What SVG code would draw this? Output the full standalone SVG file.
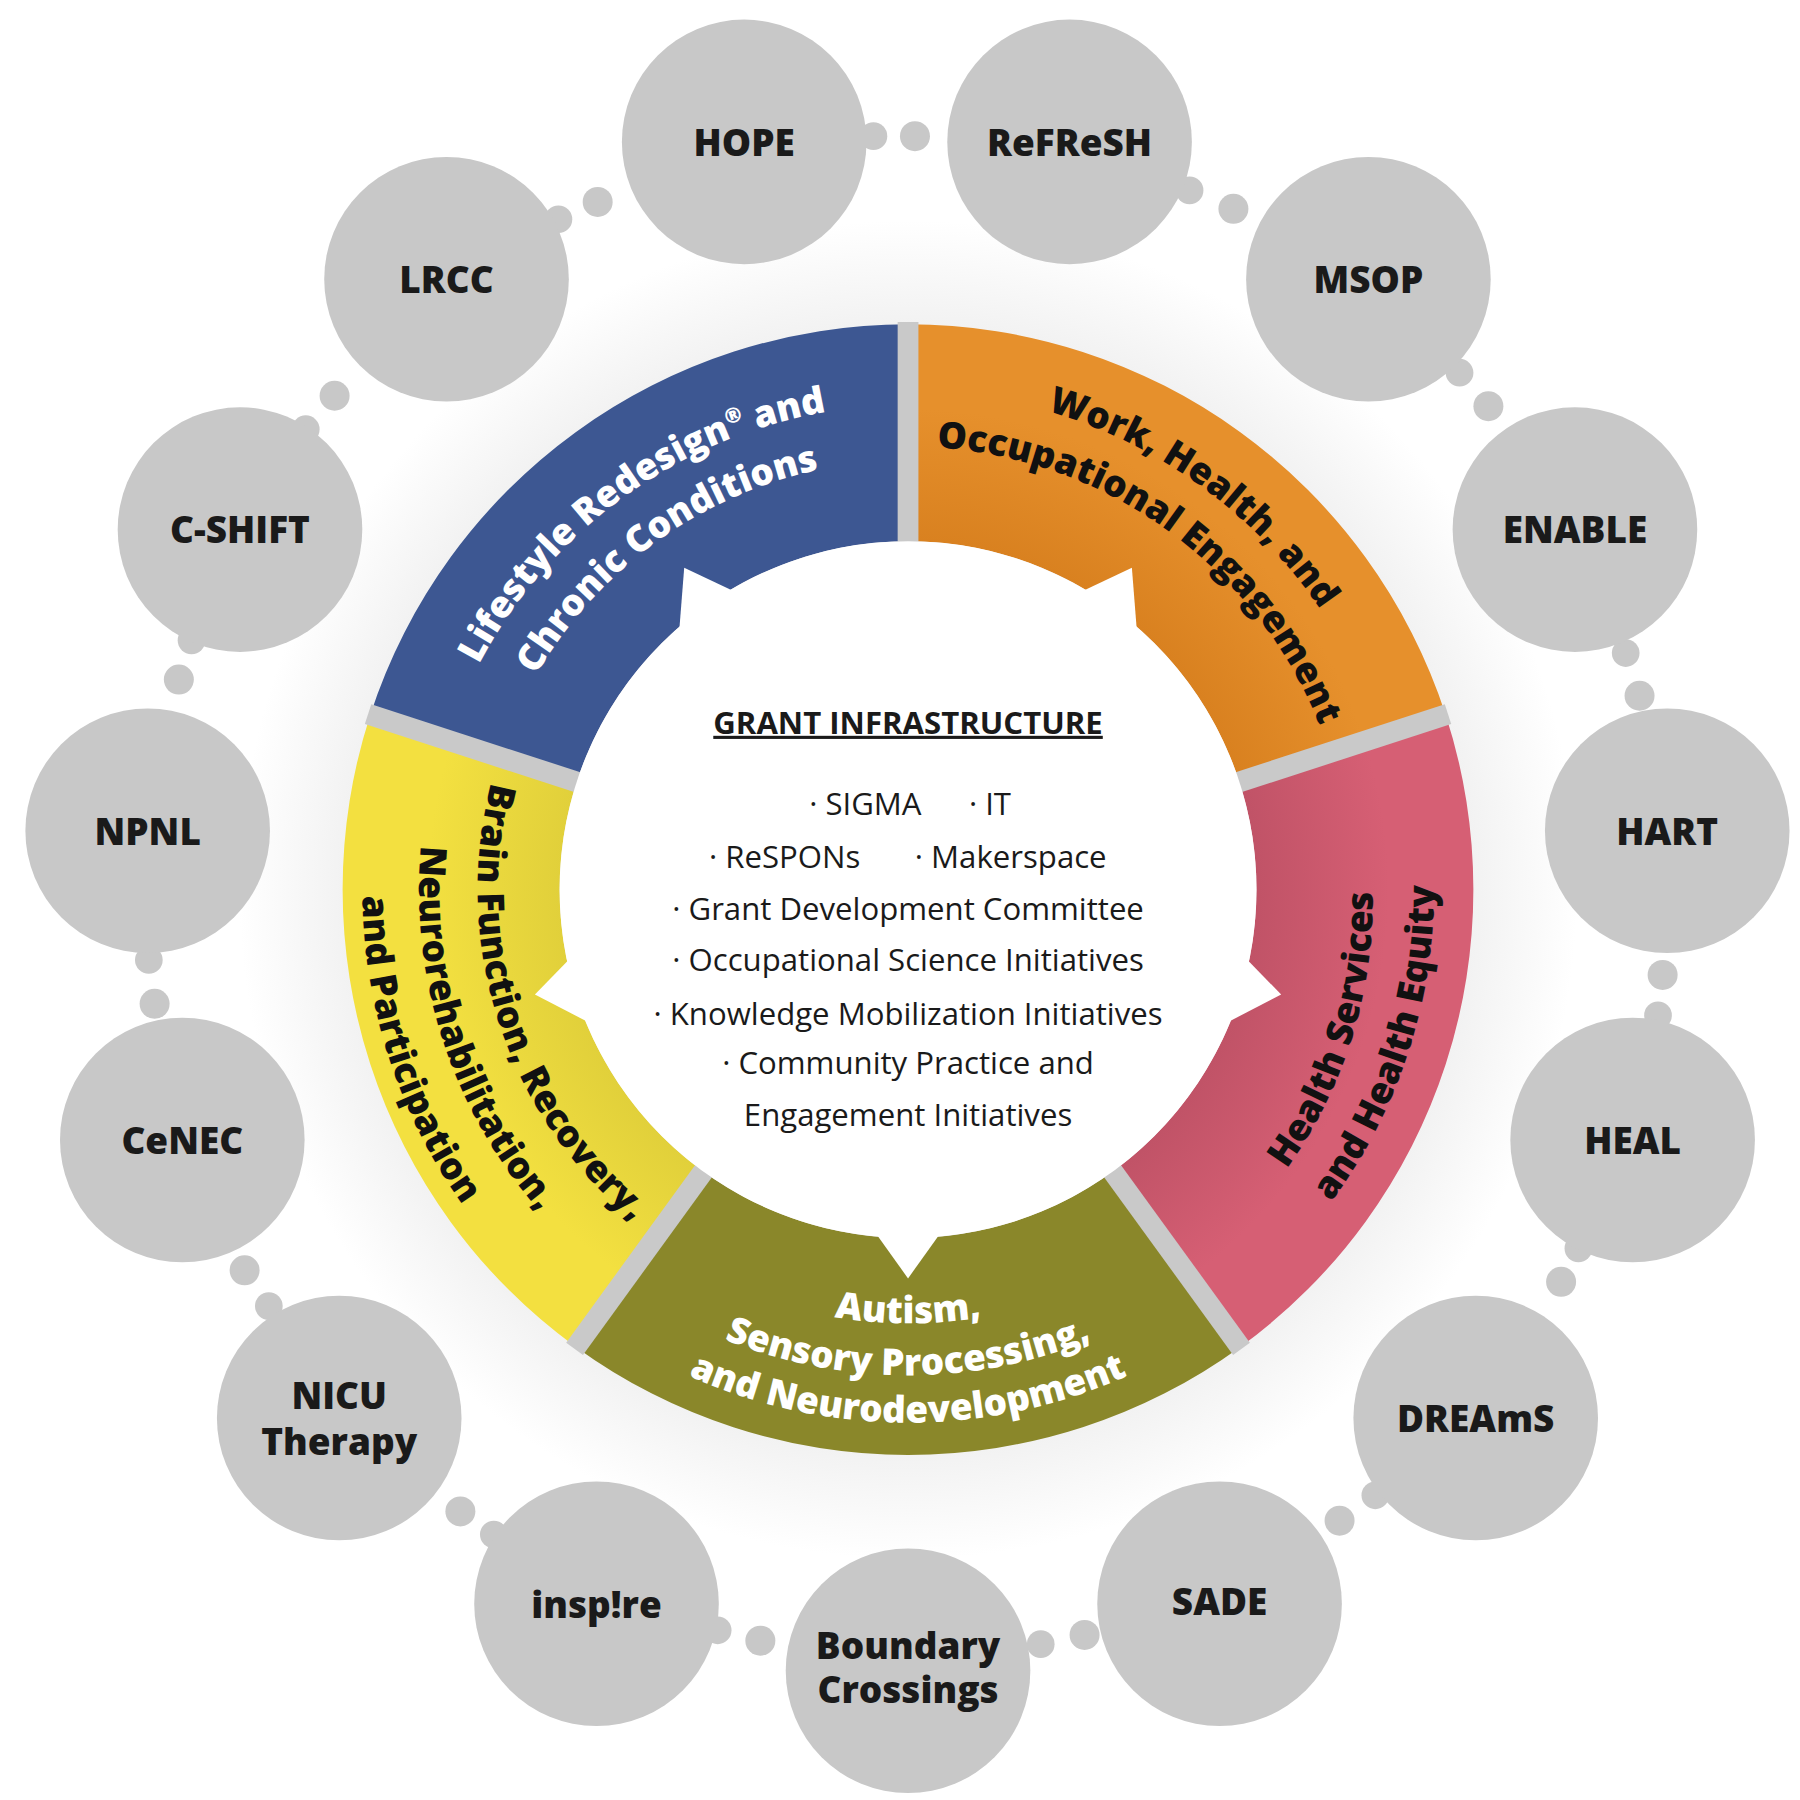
<svg xmlns="http://www.w3.org/2000/svg" width="1800" height="1800" viewBox="0 0 1800 1800">
<defs>
<style>
.c{fill:#c8c8c8}
.lb{font-family:"Open Sans","DejaVu Sans",sans-serif;font-weight:800;font-size:32px;fill:#1a1a1a;text-anchor:middle}
.arc{font-family:"Open Sans","DejaVu Sans",sans-serif;font-weight:800;font-size:32px;text-anchor:middle}
.ct{font-family:"Open Sans","DejaVu Sans",sans-serif;font-size:27px;fill:#1a1a1a;text-anchor:middle}
.gap{stroke:#c9c9c9;stroke-width:18}
</style>
<radialGradient id="glow"><stop offset="0.7" stop-color="#e6e6e6"/><stop offset="1" stop-color="#fff"/></radialGradient>
<radialGradient id="gO" cx="787" cy="771" r="490" gradientUnits="userSpaceOnUse"><stop offset="0.6" stop-color="#d8801f"/><stop offset="0.85" stop-color="#e6902c"/></radialGradient>
<radialGradient id="gP" cx="787" cy="771" r="490" gradientUnits="userSpaceOnUse"><stop offset="0.6" stop-color="#bf5266"/><stop offset="0.85" stop-color="#d65f74"/></radialGradient>
<radialGradient id="gY" cx="787" cy="771" r="490" gradientUnits="userSpaceOnUse"><stop offset="0.6" stop-color="#e0cf3a"/><stop offset="0.85" stop-color="#f3e040"/></radialGradient>
<path id="b1" d="M367,771 A420,420 0 0 1 916.8,371.6"/>
<path id="b2" d="M415,771 A372,372 0 0 1 902,417.2"/>
<path id="o1" d="M653.5,360.2 A432,432 0 0 1 1219,771"/>
<path id="o2" d="M668.4,405.8 A384,384 0 0 1 1171,771"/>
<path id="v1" d="M461.4,959 A376,376 0 0 0 1112.6,959"/>
<path id="v2" d="M422.4,981.5 A421,421 0 0 0 1151.6,981.5"/>
<path id="v3" d="M386,1003.5 A465,465 0 0 0 1188,1003.5"/>
<path id="y1" d="M470.7,573.3 A373,373 0 0 0 647.1,1116.8"/>
<path id="y2" d="M427.5,546.4 A424,424 0 0 0 628.1,1164.1"/>
<path id="y3" d="M385.9,520.3 A473,473 0 0 0 609.6,1209.5"/>
<path id="p1" d="M940.1,1149.5 A396,396 0 0 0 1122.8,561.2"/>
<path id="p2" d="M957.9,1193.6 A456,456 0 0 0 1173.7,529.3"/>
</defs>
<rect width="1800" height="1800" fill="#fff"/>
<g transform="scale(1.1538)">
<circle cx="787" cy="771" r="580" fill="url(#glow)"/>
<g id="connectors" class="c">
<circle cx="793" cy="118" r="13"/><circle cx="757" cy="118" r="12"/>
<circle cx="518" cy="175" r="13"/><circle cx="484" cy="190" r="12"/>
<circle cx="1069" cy="181" r="13"/><circle cx="1031" cy="165" r="12"/>
<circle cx="1290" cy="352" r="13"/><circle cx="1265" cy="323" r="12"/>
<circle cx="1421" cy="603" r="13"/><circle cx="1409" cy="566" r="12"/>
<circle cx="1441" cy="845" r="13"/><circle cx="1437" cy="880" r="12"/>
<circle cx="1353" cy="1111" r="13"/><circle cx="1368" cy="1082" r="12"/>
<circle cx="1161" cy="1318" r="13"/><circle cx="1192" cy="1296" r="12"/>
<circle cx="940" cy="1417" r="13"/><circle cx="902" cy="1425" r="12"/>
<circle cx="659" cy="1422" r="13"/><circle cx="622" cy="1413" r="12"/>
<circle cx="399" cy="1310" r="13"/><circle cx="428" cy="1330" r="12"/>
<circle cx="212" cy="1101" r="13"/><circle cx="233" cy="1132" r="12"/>
<circle cx="134" cy="870" r="13"/><circle cx="129" cy="832" r="12"/>
<circle cx="155" cy="589" r="13"/><circle cx="166" cy="555" r="12"/>
<circle cx="290" cy="343" r="13"/><circle cx="265" cy="372" r="12"/>
</g>
<g id="n-hope"><circle class="c" cx="645" cy="123" r="106"/><text class="lb" x="645" y="135">HOPE</text></g>
<g id="n-refresh"><circle class="c" cx="927" cy="123" r="106"/><text class="lb" x="927" y="135">ReFReSH</text></g>
<g id="n-msop"><circle class="c" cx="1186" cy="242" r="106"/><text class="lb" x="1186" y="254">MSOP</text></g>
<g id="n-enable"><circle class="c" cx="1365" cy="459" r="106"/><text class="lb" x="1365" y="471">ENABLE</text></g>
<g id="n-hart"><circle class="c" cx="1445" cy="720" r="106"/><text class="lb" x="1445" y="732">HART</text></g>
<g id="n-heal"><circle class="c" cx="1415" cy="988" r="106"/><text class="lb" x="1415" y="1000">HEAL</text></g>
<g id="n-dreams"><circle class="c" cx="1279" cy="1229" r="106"/><text class="lb" x="1279" y="1241">DREAmS</text></g>
<g id="n-sade"><circle class="c" cx="1057" cy="1390" r="106"/><text class="lb" x="1057" y="1400">SADE</text></g>
<g id="n-boundary"><circle class="c" cx="787" cy="1448" r="106"/><text class="lb" x="787" y="1438">Boundary</text><text class="lb" x="787" y="1476">Crossings</text></g>
<g id="n-inspire"><circle class="c" cx="517" cy="1390" r="106"/><text class="lb" x="517" y="1402">insp!re</text></g>
<g id="n-nicu"><circle class="c" cx="294" cy="1229" r="106"/><text class="lb" x="294" y="1221">NICU</text><text class="lb" x="294" y="1261">Therapy</text></g>
<g id="n-cenec"><circle class="c" cx="158" cy="988" r="106"/><text class="lb" x="158" y="1000">CeNEC</text></g>
<g id="n-npnl"><circle class="c" cx="128" cy="720" r="106"/><text class="lb" x="128" y="732">NPNL</text></g>
<g id="n-cshift"><circle class="c" cx="208" cy="459" r="106"/><text class="lb" x="208" y="471">C-SHIFT</text></g>
<g id="n-lrcc"><circle class="c" cx="387" cy="242" r="106"/><text class="lb" x="387" y="254">LRCC</text></g>

<g id="ring">
<path d="M320.9,619.6 A490,490 0 0 1 787,281 L787,469 A302,302 0 0 0 499.8,677.7 Z" fill="#3d5792"/>
<path d="M787,281 A490,490 0 0 1 1253,619.6 L1074.2,677.7 A302,302 0 0 0 787,469 Z" fill="url(#gO)"/>
<path d="M1253,619.6 A490,490 0 0 1 1075,1167.4 L964.5,1015.3 A302,302 0 0 0 1074.2,677.7 Z" fill="url(#gP)"/>
<path d="M1075,1167.4 A490,490 0 0 1 499,1167.4 L609.5,1015.3 A302,302 0 0 0 964.5,1015.3 Z" fill="#8a872a"/>
<path d="M499,1167.4 A490,490 0 0 1 320.9,619.6 L499.8,677.7 A302,302 0 0 0 609.5,1015.3 Z" fill="url(#gY)"/>
<g class="gap">
<line x1="787" y1="771" x2="787" y2="279"/>
<line x1="787" y1="771" x2="1255" y2="619"/>
<line x1="787" y1="771" x2="1076" y2="1169"/>
<line x1="787" y1="771" x2="498" y2="1169"/>
<line x1="787" y1="771" x2="319" y2="619"/>
</g>
<circle cx="787" cy="771" r="302" fill="#fff"/>
<g fill="#fff">
<polygon points="593,492 588,555.4 637,512.9"/>
<polygon points="981,492 937,512.9 986,555.4"/>
<polygon points="1110.4,862 1076.6,827.3 1062,887"/>
<polygon points="787,1108 817,1066 757,1066"/>
<polygon points="463.6,862 512,887 497.4,827.3"/>
</g>
</g>

<g id="seg-labels">
<text class="arc" fill="#fff"><textPath href="#b1" startOffset="50%">Lifestyle Redesign<tspan font-size="18" dy="-12">®</tspan><tspan dy="12"> and</tspan></textPath></text>
<text class="arc" fill="#fff"><textPath href="#b2" startOffset="50%">Chronic Conditions</textPath></text>
<text class="arc" fill="#111"><textPath href="#o1" startOffset="50%">Work, Health, and</textPath></text>
<text class="arc" fill="#111"><textPath href="#o2" startOffset="50%">Occupational Engagement</textPath></text>
<text class="arc" fill="#111"><textPath href="#p1" startOffset="50%">Health Services</textPath></text>
<text class="arc" fill="#111"><textPath href="#p2" startOffset="50%">and Health Equity</textPath></text>
<text class="arc" fill="#fff"><textPath href="#v1" startOffset="50%">Autism,</textPath></text>
<text class="arc" fill="#fff"><textPath href="#v2" startOffset="50%">Sensory Processing,</textPath></text>
<text class="arc" fill="#fff"><textPath href="#v3" startOffset="50%">and Neurodevelopment</textPath></text>
<text class="arc" fill="#111"><textPath href="#y1" startOffset="50%">Brain Function, Recovery,</textPath></text>
<text class="arc" fill="#111"><textPath href="#y2" startOffset="50%">Neurorehabilitation,</textPath></text>
<text class="arc" fill="#111"><textPath href="#y3" startOffset="50%">and Participation</textPath></text>
</g>

<g id="center-text">
<text class="ct" x="787" y="636" font-weight="700" font-size="31" text-decoration="underline">GRANT INFRASTRUCTURE</text>
<text class="ct" x="750" y="706">· SIGMA</text>
<text class="ct" x="858" y="706">· IT</text>
<text class="ct" x="680" y="752">· ReSPONs</text>
<text class="ct" x="876" y="752">· Makerspace</text>
<text class="ct" x="787" y="797">· Grant Development Committee</text>
<text class="ct" x="787" y="842">· Occupational Science Initiatives</text>
<text class="ct" x="787" y="888">· Knowledge Mobilization Initiatives</text>
<text class="ct" x="787" y="931">· Community Practice and</text>
<text class="ct" x="787" y="976">Engagement Initiatives</text>
</g>
</g>
</svg>
